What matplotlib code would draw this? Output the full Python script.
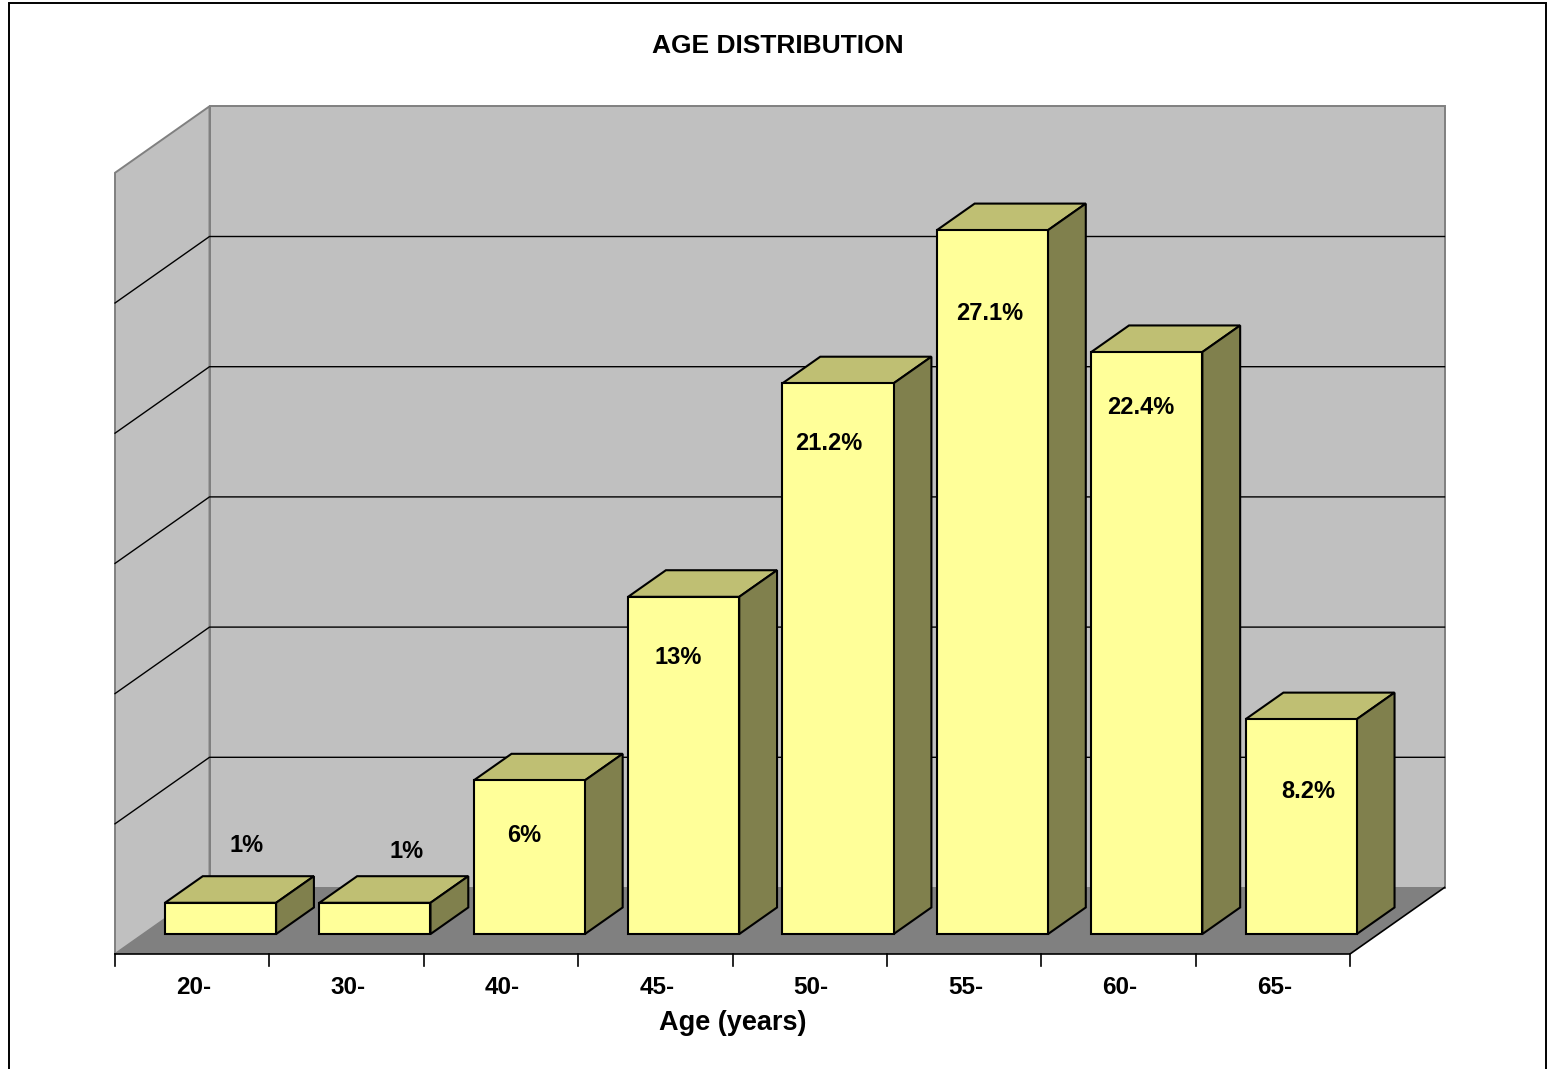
import matplotlib
matplotlib.use('Agg')
import matplotlib.pyplot as plt
from matplotlib.patches import Polygon, Rectangle

plt.rcParams['font.family'] = ['Liberation Sans', 'DejaVu Sans']

# Data
categories = ['20-', '30-', '40-', '45-', '50-', '55-', '60-', '65-']
values = [1.2, 1.2, 5.9, 12.95, 21.15, 27.03, 22.35, 8.25]
bar_labels = ['1%', '1%', '6%', '13%', '21.2%', '27.1%', '22.4%', '8.2%']
y_grid = [5, 10, 15, 20, 25]
y_max = 30

# Label spots, picked by hand (pixels)
label_px = [(247, 845), (407, 852), (524, 835), (678, 658),
            (829, 444), (990, 313), (1141, 408), (1308, 792)]

# Layout
W, H = 1547, 1069
px_x0, px_y0 = 115, 954   # front corner of the floor
sx = 1235 / len(categories)  # pixels per category
sy = 26.04                # pixels per percent
depth_x = 94.5 / sx       # full depth, in category units
depth_y = 66.5 / sy       # full depth, in percent units
bar_w = 0.72
bar_d0, bar_d1 = 0.3, 0.7

wall = '#C0C0C0'
floor = '#808080'
front = '#FFFF99'
top = '#BFBF73'
side = '#80804D'

fig = plt.figure(figsize=(W / 100, H / 100), dpi=100, facecolor='white')
ax = fig.add_axes([0, 0, 1, 1])
ax.set_xlim(-px_x0 / sx, (W - px_x0) / sx)
ax.set_ylim((px_y0 - H) / sy, px_y0 / sy)
ax.axis('off')


def to_fig(px, py):
    return px / W, 1 - py / H


def poly(points, color, edge, lw=1.5, z=1):
    ax.add_patch(Polygon(points, closed=True, facecolor=color, edgecolor=edge,
                         linewidth=lw, joinstyle='miter', zorder=z))


n = len(categories)

# Chart frame, runs off the bottom of the picture
fig.add_artist(Rectangle(to_fig(9, 1075), 1537 / W, 1072.5 / H, fill=False,
                         edgecolor='black', linewidth=1.4,
                         transform=fig.transFigure))

# Walls and floor
poly([(depth_x, depth_y), (n + depth_x, depth_y),
      (n + depth_x, y_max + depth_y), (depth_x, y_max + depth_y)], wall, '#808080', 1.4)
poly([(0, 0), (depth_x, depth_y), (depth_x, y_max + depth_y), (0, y_max)], wall, '#808080', 1.4)
poly([(0, 0), (n, 0), (n + depth_x, depth_y), (depth_x, depth_y)], floor, 'none', z=1.5)
ax.plot([0, n, n + depth_x], [0, 0, depth_y], color='black', lw=1.2, zorder=2)

# Gridlines
for g in y_grid:
    ax.plot([0, depth_x, n + depth_x], [g, g + depth_y, g + depth_y],
            color='black', lw=1.0, zorder=2)

# Bars
for i, v in enumerate(values):
    x0 = i + (1 - bar_w) / 2 + bar_d0 * depth_x
    x1 = x0 + bar_w
    y0 = bar_d0 * depth_y
    dx = (bar_d1 - bar_d0) * depth_x
    dy = (bar_d1 - bar_d0) * depth_y
    poly([(x0, y0 + v), (x1, y0 + v), (x1 + dx, y0 + v + dy), (x0 + dx, y0 + v + dy)], top, 'black', z=3)
    poly([(x1, y0), (x1 + dx, y0 + dy), (x1 + dx, y0 + v + dy), (x1, y0 + v)], side, 'black', z=3)
    poly([(x0, y0), (x1, y0), (x1, y0 + v), (x0, y0 + v)], front, 'black', z=3)

# Ticks
tick_len = 12 / sy
for i in range(n + 1):
    ax.plot([i, i], [0, -tick_len], color='black', lw=1.2, zorder=2)

for i, c in enumerate(categories):
    ax.text(i + 0.51, -33 / sy, c, ha='center', va='center', fontsize=17.5, fontweight='bold')

for (px, py), t in zip(label_px, bar_labels):
    fx, fy = to_fig(px, py)
    fig.text(fx, fy, t, ha='center', va='center', fontsize=17, fontweight='bold', color='black', zorder=5)

fx, fy = to_fig(778, 46)
fig.text(fx, fy, 'AGE DISTRIBUTION', ha='center', va='center', fontsize=19, fontweight='bold')
ax.text(n / 2, -69 / sy, 'Age (years)', ha='center', va='center', fontsize=19.5, fontweight='bold')

fig.savefig('out.png', dpi=100)
